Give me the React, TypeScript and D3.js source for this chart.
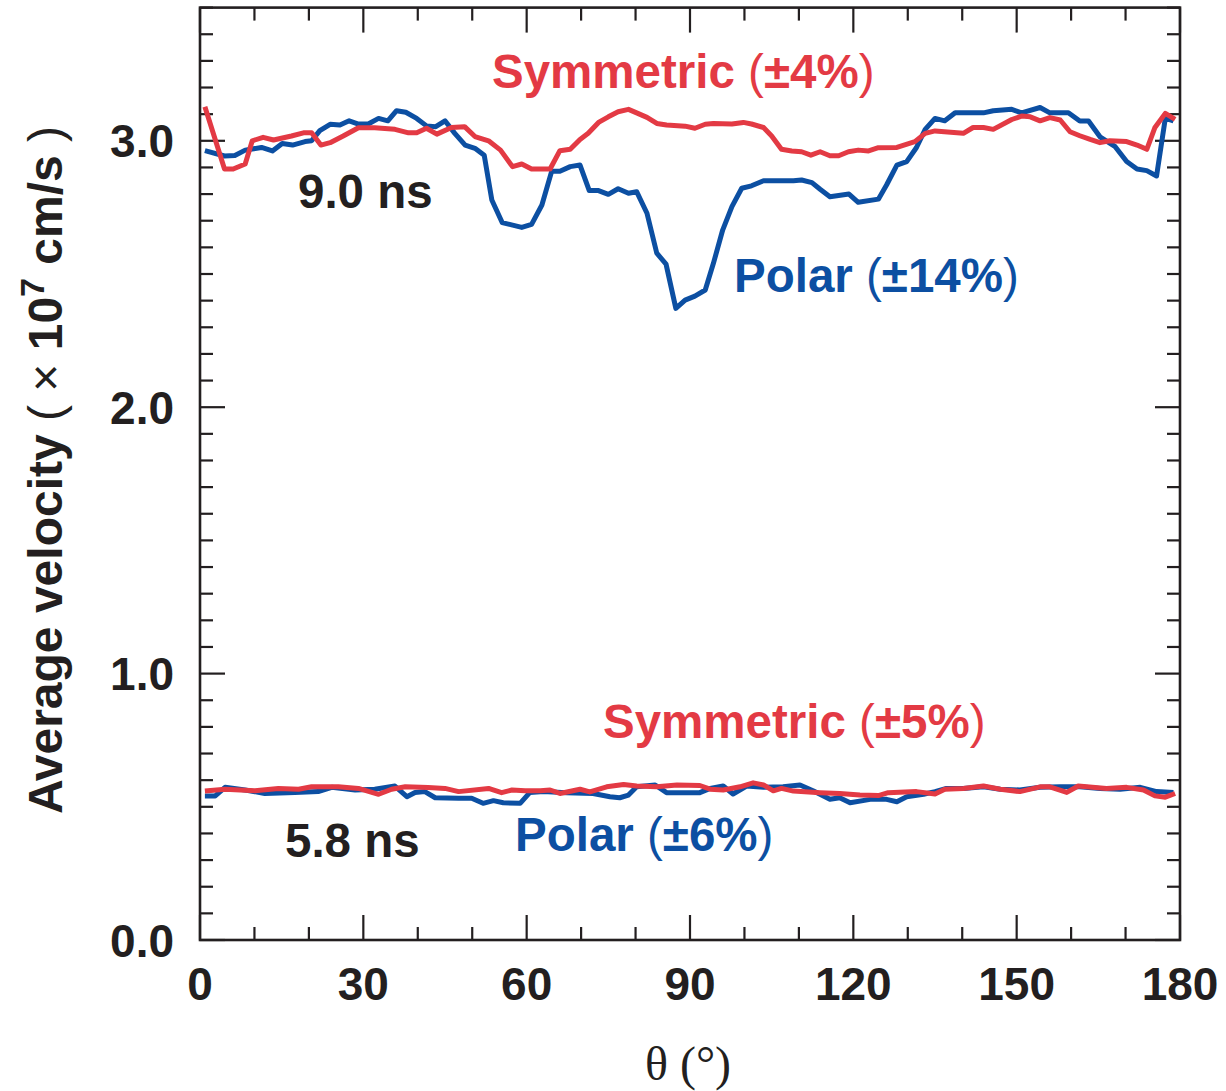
import * as d3 from "d3";
import React, { useEffect, useRef } from "react";

// 9.0 ns, symmetric drive
const thetaSym9 = [0.9, 4.5, 6.1, 8.3, 9.6, 11.6, 13.5, 16.8, 19, 20.5, 22.2, 23.9, 26.3, 29.1, 32.1, 35.8, 38.3, 39.8, 41.6, 43.5, 46.2, 48.6, 50.5, 53, 55.2, 57.4, 59.1, 60.9, 64.3, 66.1, 68, 69.8, 71.3, 73.2, 75, 76.8, 78.7, 80.2, 82.1, 83.9, 85.7, 89.1, 90.9, 92.8, 94.3, 97.7, 99.8, 101.3, 103.5, 105, 106.8, 108.7, 110.5, 112.2, 113.9, 115.7, 117.3, 119.1, 120.9, 122.8, 124.6, 128, 131.3, 133.2, 135, 140.2, 142, 143.9, 145.7, 149.1, 150.9, 152.5, 154.3, 156.1, 158, 159.8, 161.6, 163.5, 165.3, 167.1, 170.2, 172.1, 173.9, 175.4, 177.3, 179.1];
const velSym9 = [3.128, 2.894, 2.894, 2.913, 3.0, 3.013, 3.003, 3.018, 3.03, 3.03, 2.984, 2.993, 3.018, 3.049, 3.049, 3.043, 3.03, 3.03, 3.047, 3.025, 3.05, 3.053, 3.016, 3.0, 2.965, 2.903, 2.913, 2.894, 2.894, 2.963, 2.968, 3.005, 3.028, 3.069, 3.09, 3.109, 3.118, 3.105, 3.088, 3.065, 3.059, 3.055, 3.047, 3.062, 3.065, 3.063, 3.069, 3.063, 3.05, 3.018, 2.968, 2.962, 2.959, 2.946, 2.959, 2.944, 2.944, 2.959, 2.965, 2.962, 2.974, 2.975, 2.997, 3.028, 3.037, 3.028, 3.05, 3.05, 3.043, 3.08, 3.093, 3.09, 3.075, 3.087, 3.078, 3.034, 3.019, 3.005, 2.993, 3.0, 2.997, 2.984, 2.968, 3.05, 3.103, 3.08];

// 9.0 ns, polar drive
const thetaPol9 = [0.9, 4.5, 6.4, 8.3, 11.3, 13.3, 15.1, 17, 19.3, 20.5, 22, 23.9, 25.7, 27.4, 29.1, 30.9, 32.8, 34.5, 36.1, 37.8, 39.8, 41.6, 43.3, 45, 46.8, 48.7, 50.5, 52.2, 53.6, 55.5, 59.1, 60.9, 62.8, 64.6, 66.1, 68, 69.8, 71.5, 73.2, 75, 76.8, 78.7, 80.2, 82.1, 83.9, 85.6, 87.4, 89.1, 90.9, 92.8, 94.3, 96, 97.7, 99.5, 101.3, 103.5, 105.3, 109, 110.5, 112.4, 113.9, 115.7, 119.2, 120.9, 124.6, 126.1, 128, 129.8, 131.6, 133.2, 135, 136.8, 138.7, 143.9, 145.7, 149.1, 150.9, 154.3, 156.1, 159.5, 161.6, 163.2, 165.3, 168.1, 170.2, 172.1, 173.9, 175.7, 177.3, 178.8];
const velPol9 = [2.963, 2.943, 2.945, 2.965, 2.975, 2.962, 2.99, 2.984, 2.997, 3.0, 3.038, 3.062, 3.059, 3.075, 3.063, 3.063, 3.084, 3.075, 3.113, 3.107, 3.084, 3.056, 3.053, 3.075, 3.028, 2.984, 2.972, 2.946, 2.778, 2.693, 2.675, 2.686, 2.759, 2.886, 2.886, 2.903, 2.909, 2.813, 2.813, 2.799, 2.82, 2.803, 2.809, 2.728, 2.578, 2.537, 2.371, 2.402, 2.417, 2.44, 2.54, 2.665, 2.753, 2.822, 2.831, 2.85, 2.85, 2.85, 2.853, 2.843, 2.818, 2.79, 2.8, 2.769, 2.781, 2.834, 2.909, 2.922, 2.975, 3.043, 3.084, 3.075, 3.105, 3.105, 3.113, 3.118, 3.105, 3.125, 3.105, 3.105, 3.074, 3.074, 3.015, 2.978, 2.922, 2.894, 2.888, 2.868, 3.084, 3.075];

// 5.8 ns, symmetric drive
const thetaSym58 = [0.9, 4.6, 10.1, 14.4, 18.1, 20.5, 25.4, 29.1, 32.8, 35.2, 37.7, 41.9, 45, 47.5, 53, 55.4, 57.3, 59.7, 62.5, 64.3, 66.1, 69.8, 71.6, 74.7, 77.8, 80.2, 83.9, 87.6, 91.8, 93.7, 96.1, 99.2, 101.6, 103.5, 105.3, 106.8, 109, 113.9, 117.5, 121.2, 124.6, 126.4, 131.6, 135, 136.8, 140.2, 143.9, 147, 150.6, 154.3, 156.1, 159.2, 161.3, 166.5, 170.2, 173.3, 175.4, 177.3, 179.1];
const velSym58 = [0.559, 0.566, 0.56, 0.569, 0.566, 0.575, 0.575, 0.569, 0.547, 0.566, 0.575, 0.572, 0.569, 0.557, 0.569, 0.553, 0.563, 0.56, 0.56, 0.563, 0.55, 0.566, 0.556, 0.575, 0.584, 0.578, 0.575, 0.582, 0.58, 0.566, 0.563, 0.575, 0.59, 0.582, 0.56, 0.569, 0.559, 0.553, 0.55, 0.544, 0.542, 0.553, 0.557, 0.548, 0.566, 0.569, 0.578, 0.566, 0.557, 0.575, 0.575, 0.554, 0.578, 0.569, 0.573, 0.563, 0.541, 0.536, 0.55];

// 5.8 ns, polar drive
const thetaPol58 = [0.9, 2.8, 4.6, 8.3, 11.9, 17.4, 21.7, 24.2, 28.5, 32.1, 35.8, 38, 39.5, 41.3, 43.2, 47.5, 49.9, 52, 53.9, 55.7, 58.8, 60.6, 63.1, 67.3, 72.2, 75.3, 77.1, 78.7, 80.2, 83.6, 85.7, 91.8, 93.7, 96.1, 97.9, 100.4, 103.5, 107.1, 110.2, 112.7, 115.7, 117.5, 119.4, 123.1, 126.1, 128, 129.8, 132.9, 135, 137.1, 140.2, 143.9, 147, 150.6, 154.3, 158, 161.6, 165.3, 169, 172.7, 175.7, 178.8];
const velPol58 = [0.541, 0.541, 0.573, 0.563, 0.55, 0.554, 0.557, 0.573, 0.563, 0.566, 0.578, 0.538, 0.554, 0.557, 0.534, 0.532, 0.532, 0.513, 0.523, 0.515, 0.513, 0.554, 0.557, 0.553, 0.55, 0.538, 0.534, 0.544, 0.575, 0.582, 0.553, 0.553, 0.569, 0.578, 0.548, 0.578, 0.573, 0.575, 0.582, 0.559, 0.528, 0.534, 0.515, 0.528, 0.528, 0.519, 0.538, 0.547, 0.557, 0.569, 0.569, 0.575, 0.566, 0.563, 0.573, 0.575, 0.575, 0.569, 0.566, 0.573, 0.557, 0.554];

const xMajor = [0, 30, 60, 90, 120, 150, 180];
const yMajor = [0, 1, 2, 3];

const RED = "#e33a44";
const BLUE = "#0c4fa2";
const INK = "#231f20";
const SANS = "'Liberation Sans', Arial, Helvetica, sans-serif";

export default function App() {
  const gRef = useRef<SVGGElement>(null);
  const W = 1226, H = 1091;
  const left = 200, right = 1180, top = 7.6, bottom = 940;

  useEffect(() => {
    const svg = d3.select(gRef.current);
    svg.selectAll("*").remove();

    const x = d3.scaleLinear().domain([0, 180]).range([left, right]);
    const y = d3.scaleLinear().domain([0, 3.5]).range([bottom, top]);

    // ticks on all four sides, pointing in
    const xMinor = d3.range(0, 181, 10);
    const yMinor = d3.range(0, 36).map((d) => d / 10);
    const tk = svg.append("g").attr("stroke", INK).attr("stroke-width", 2.2);
    xMinor.forEach((v) => {
      const len = v % 30 === 0 ? 25 : 13;
      tk.append("line").attr("x1", x(v)).attr("x2", x(v)).attr("y1", bottom).attr("y2", bottom - len);
      tk.append("line").attr("x1", x(v)).attr("x2", x(v)).attr("y1", top).attr("y2", top + len);
    });
    yMinor.forEach((v) => {
      const len = Math.abs(v - Math.round(v)) < 1e-6 ? 25 : 13;
      tk.append("line").attr("x1", left).attr("x2", left + len).attr("y1", y(v)).attr("y2", y(v));
      tk.append("line").attr("x1", right).attr("x2", right - len).attr("y1", y(v)).attr("y2", y(v));
    });

    // frame
    svg.append("rect")
      .attr("x", left).attr("y", top)
      .attr("width", right - left).attr("height", bottom - top)
      .attr("fill", "none").attr("stroke", INK).attr("stroke-width", 2.6);

    // lines
    const line = d3.line<[number, number]>()
      .x((d) => x(d[0]))
      .y((d) => y(d[1]));
    const series = [
      { t: thetaPol58, v: velPol58, c: BLUE },
      { t: thetaSym58, v: velSym58, c: RED },
      { t: thetaPol9, v: velPol9, c: BLUE },
      { t: thetaSym9, v: velSym9, c: RED },
    ];
    series.forEach((s) => {
      const pts = s.t.map((t, i) => [t, s.v[i]] as [number, number]);
      svg.append("path")
        .attr("d", line(pts))
        .attr("fill", "none")
        .attr("stroke", s.c)
        .attr("stroke-width", 5)
        .attr("stroke-linejoin", "round");
    });

    // tick labels
    svg.append("g").selectAll("text").data(xMajor).enter().append("text")
      .attr("x", (d) => x(d)).attr("y", 1000)
      .attr("text-anchor", "middle")
      .attr("font-family", SANS).attr("font-weight", "bold").attr("font-size", 46)
      .attr("fill", INK)
      .text((d) => d);
    svg.append("g").selectAll("text").data(yMajor).enter().append("text")
      .attr("x", 174).attr("y", (d) => y(d)).attr("dy", "0.36em")
      .attr("text-anchor", "end")
      .attr("font-family", SANS).attr("font-weight", "bold").attr("font-size", 46)
      .attr("fill", INK)
      .text((d) => d.toFixed(1));
  }, []);

  const lbl = (x: number, y: number, color: string, bold: string, pct: string) => (
    <text x={x} y={y} fill={color} fontFamily={SANS} fontSize={47.5} fontWeight="bold">
      {bold}
      <tspan fontWeight="normal"> (</tspan>
      {pct}
      <tspan fontWeight="normal">)</tspan>
    </text>
  );

  return (
    <svg width={W} height={H} style={{ position: "absolute", left: 0, top: 0, background: "#fff" }}>
      <g ref={gRef} />
      {lbl(492, 88, RED, "Symmetric", "±4%")}
      {lbl(734, 292, BLUE, "Polar", "±14%")}
      {lbl(603, 738, RED, "Symmetric", "±5%")}
      {lbl(515, 851, BLUE, "Polar", "±6%")}
      <text x={298} y={208} fill={INK} fontFamily={SANS} fontSize={47.5} fontWeight="bold">9.0 ns</text>
      <text x={285} y={857} fill={INK} fontFamily={SANS} fontSize={47.5} fontWeight="bold">5.8 ns</text>
      <text transform="translate(62,470) rotate(-90)" textAnchor="middle" fill={INK}
        fontFamily={SANS} fontSize={48} fontWeight="bold">
        Average velocity
        <tspan fontWeight="normal"> ( × </tspan>
        10<tspan fontSize={34} dy={-18}>7</tspan>
        <tspan dy={18}> cm/s</tspan>
        <tspan fontWeight="normal"> )</tspan>
      </text>
      <text x={688} y={1080} textAnchor="middle" fill={INK}
        fontFamily="'Liberation Serif', 'Times New Roman', serif" fontSize={48}>θ (°)</text>
    </svg>
  );
}
